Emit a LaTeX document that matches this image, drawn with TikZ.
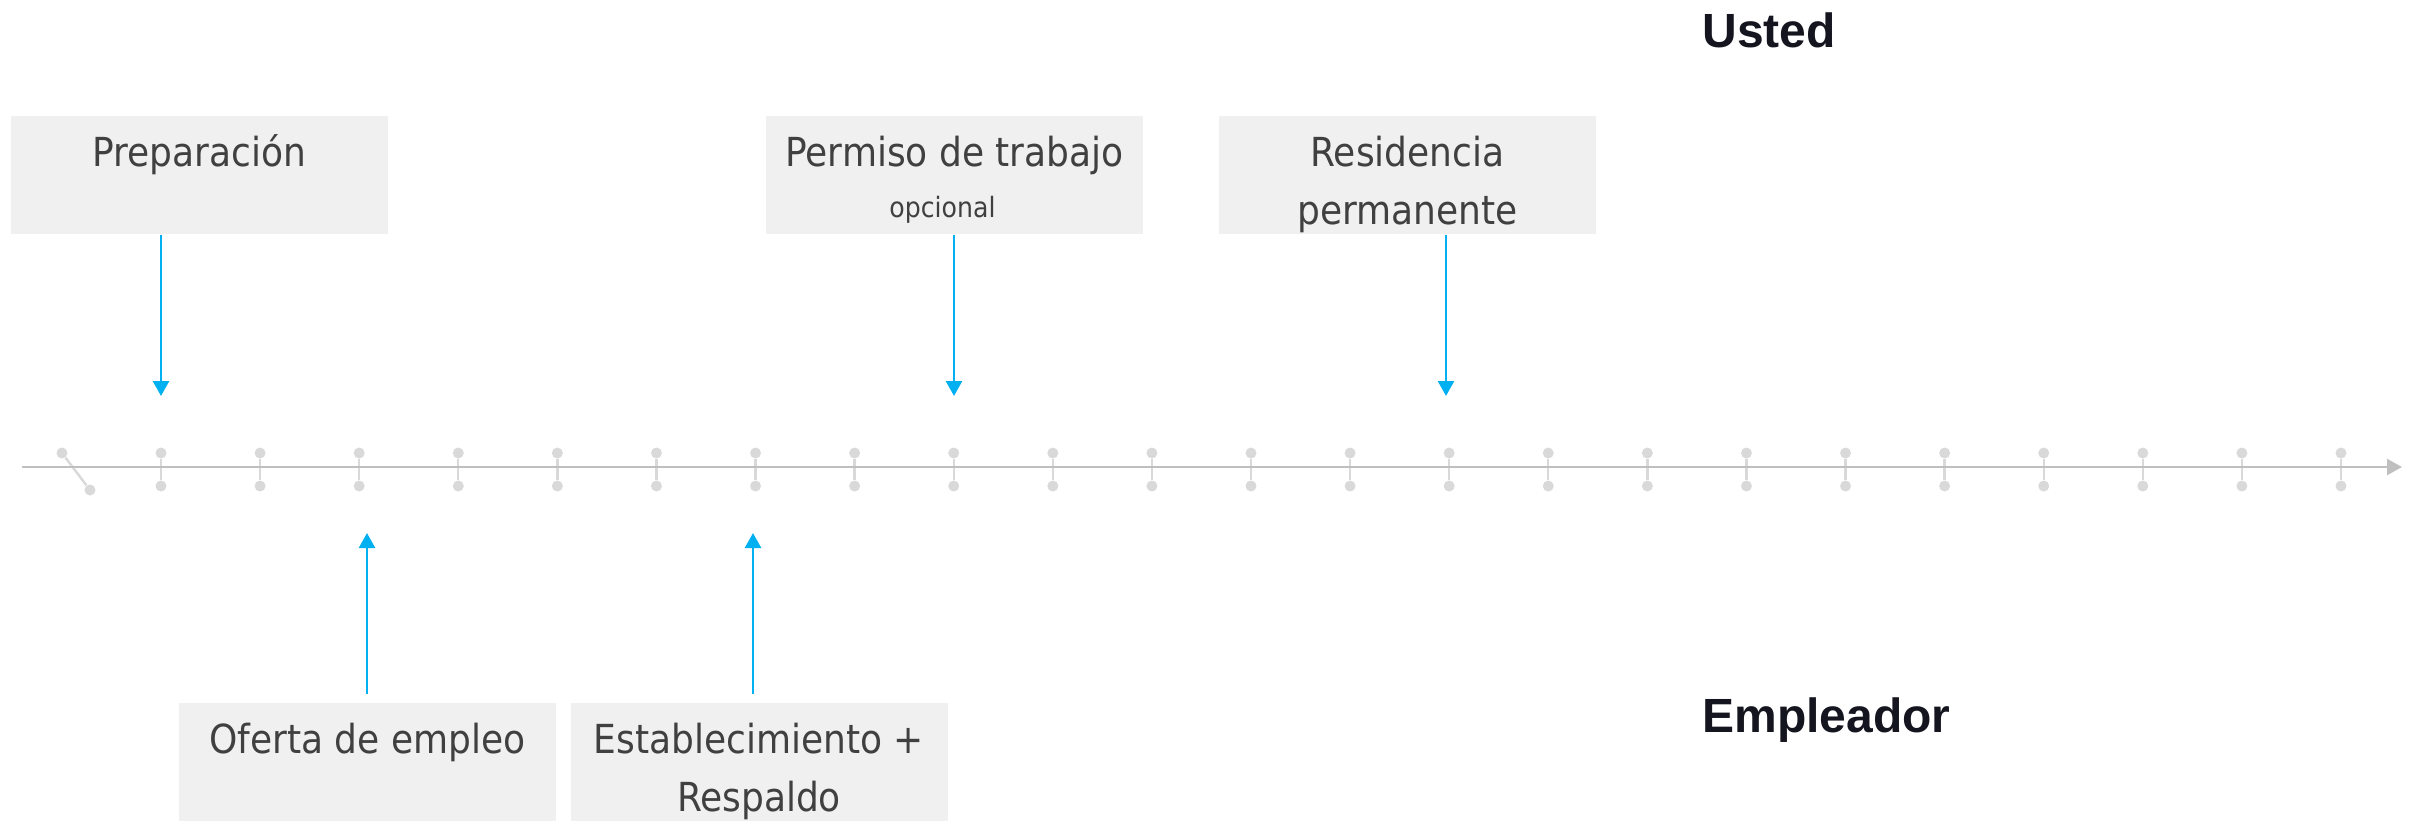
\documentclass[tikz,border=0pt]{standalone}
\usepackage{fontspec}
\setmainfont{DejaVu Sans Condensed}
\newfontfamily\headfont{Liberation Sans}
\usepackage{xcolor}
\usetikzlibrary{arrows.meta, positioning}

\definecolor{boxgray}{HTML}{F0F0F0}
\definecolor{textgray}{HTML}{404040}
\definecolor{linkblue}{HTML}{00B0F0}
\definecolor{axisgray}{HTML}{BFBFBF}
\definecolor{tickgray}{HTML}{D9D9D9}
\definecolor{headink}{HTML}{15151F}

\begin{document}
\begin{tikzpicture}[x=0.5pt, y=-0.5pt,
    stagebox/.style={fill=boxgray, text=textgray, anchor=north,
        inner xsep=0pt, inner ysep=0pt, minimum width=188.5pt,
        text height=25pt, text depth=34pt, align=center,
        font=\fontsize{20}{29}\selectfont},
    twolines/.style={text height=54pt, text depth=5pt},
    sidelabel/.style={anchor=base west, inner sep=0pt, text=headink,
        font=\headfont\bfseries\fontsize{24}{28}\selectfont},
    pointer/.style={draw=linkblue, line width=1.25pt,
        -{Triangle[length=7.5pt, width=8pt]}},
    tickdot/.style={circle, fill=tickgray, inner sep=0pt, minimum size=5.5pt}]
        \useasboundingbox (0,0) rectangle (2415,821);

        % Add the ticks of the time line
        \node[tickdot] (su) at (62,453) {};
        \node[tickdot] (sd) at (90,490) {};
        \draw[tickgray, line width=1.2pt] (su) -- (sd);
        \foreach \k in {0,...,22} {
            \node[tickdot] (tu\k) at ({161+99.09*\k},453) {};
            \node[tickdot] (td\k) at ({161+99.09*\k},486) {};
            \draw[tickgray, line width=1.2pt] (tu\k) -- (td\k);
        }

        % Add the axis
        \coordinate (axstart) at (22,467);
        \coordinate (axend) at (2402,467);
        \draw[axisgray, line width=1.2pt, -{Triangle[length=7.5pt, width=8pt]}]
            (axstart) -- (axend);

        % Add the stages
        \node[stagebox] (prep)   at (199.5,116) {Preparación};
        \node[stagebox, text height=50.5pt, text depth=8.5pt] (permit) at (954.5,116)
            {Permiso de trabajo\\[-3.5pt]{\fontsize{14}{17}\selectfont opcional}\hspace*{12pt}};
        \node[stagebox, twolines] (resid) at (1407.5,116) {Residencia\\permanente};
        \node[stagebox] (offer)  at (367.5,703) {Oferta de empleo};
        \node[stagebox, twolines] (estab) at (759,703) {Establecimiento +\\Respaldo};

        % Add the two sides
        \node[sidelabel] (you)      at (1702,47)  {Usted};
        \node[sidelabel] (employer) at (1702,732) {Empleador};

        % Connect the stages with the time line
        \coordinate (prepTip)   at (161,396);
        \coordinate (permitTip) at (954,396);
        \coordinate (residTip)  at (1446,396);
        \coordinate (offerTip)  at (367,533);
        \coordinate (estabTip)  at (753,533);
        \draw[pointer] (prep.south -| prepTip) -- (prepTip);
        \draw[pointer] (permit.south -| permitTip) -- (permitTip);
        \draw[pointer] (resid.south -| residTip) -- (residTip);
        \draw[pointer] ([yshift=4.5pt]offer.north -| offerTip) -- (offerTip);
        \draw[pointer] ([yshift=4.5pt]estab.north -| estabTip) -- (estabTip);
\end{tikzpicture}
\end{document}
